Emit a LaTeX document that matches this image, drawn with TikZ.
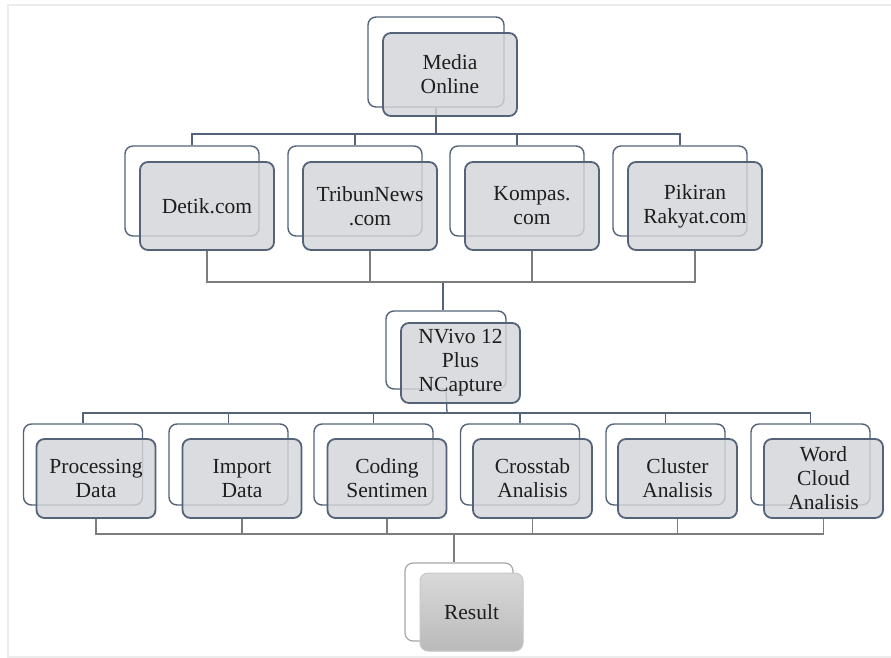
\documentclass[tikz,border=0pt]{standalone}
\usepackage{fontspec}
\setmainfont{Liberation Serif}
\definecolor{slate}{RGB}{84,99,120}
\definecolor{boxgray}{RGB}{212,213,217}
\definecolor{busgray}{RGB}{125,125,125}
\definecolor{framegray}{RGB}{236,236,236}
\definecolor{txt}{RGB}{30,30,30}
\tikzset{
  backbox/.style={draw=slate, fill=white, rounded corners=8pt, line width=1.4pt, inner sep=0pt},
  frontbox/.style={draw=slate, fill=boxgray, fill opacity=0.82, text opacity=1, rounded corners=8pt, line width=1.8pt, inner sep=0pt, align=center, text=txt, font=\fontsize{21.5}{24}\selectfont},
  topline/.style={draw=slate, line width=1.3pt},
  botline/.style={draw=busgray, line width=1.3pt},
  wtwo/.style={minimum width=134pt},
  wthree/.style={minimum width=119pt},
}
\begin{document}
\begin{tikzpicture}[x=1pt,y=-1pt]
\useasboundingbox (0,0) rectangle (891,658);
% faint outer frame
\draw[framegray, line width=2pt] (891,5) -- (8,5) -- (8,657) -- (891,657);

% ---- back boxes ----
\node[backbox, minimum width=136pt, minimum height=90pt] (mediab) at (436,62) {};
\node[backbox, wtwo, minimum height=90pt] (detikb) at (192,191) {};
\node[backbox, wtwo, minimum height=90pt] (tribunb) at (355,191) {};
\node[backbox, wtwo, minimum height=90pt] (kompasb) at (517,191) {};
\node[backbox, wtwo, minimum height=90pt] (pikiranb) at (680,191) {};
\node[backbox, minimum width=120pt, minimum height=78pt] (nvivob) at (446,350) {};
\node[backbox, wthree, minimum height=81pt] (procb) at (83,464.5) {};
\node[backbox, wthree, minimum height=81pt] (importb) at (228.5,464.5) {};
\node[backbox, wthree, minimum height=81pt] (codingb) at (373.5,464.5) {};
\node[backbox, wthree, minimum height=81pt] (crossb) at (520,464.5) {};
\node[backbox, wthree, minimum height=81pt] (clusterb) at (665.5,464.5) {};
\node[backbox, wthree, minimum height=81pt] (wordb) at (810.5,464.5) {};
\node[backbox, draw=black!35, line width=1.2pt, minimum width=108pt, minimum height=78pt] (resultb) at (459,602) {};

% ---- bus coordinates ----
\coordinate (bus1) at (436,134);
\coordinate (bus2) at (443,282);
\coordinate (bus3) at (447,413);
\coordinate (bus4) at (454,534);

% ---- top connectors ----
\draw[topline] (mediab.south) -- (bus1);
\foreach \c in {detikb,tribunb,kompasb,pikiranb}
  \draw[topline] (bus1) -| (\c.north);
\draw[topline] (bus2) -- (bus2 |- nvivob.north);
\draw[topline] (nvivob.south) -- (bus3);
\foreach \c in {procb,importb,codingb,crossb,clusterb,wordb}
  \draw[topline] (bus3) -| (\c.north);

% ---- front boxes ----
\node[frontbox, minimum width=134pt, minimum height=83pt] (mediaf) at (450,74.5) {Media\\Online};
\node[frontbox, wtwo, minimum height=88pt] (detikf) at (207,206) {Detik.com};
\node[frontbox, wtwo, minimum height=88pt] (tribunf) at (370,206) {TribunNews\\.com};
\node[frontbox, wtwo, minimum height=88pt] (kompasf) at (532,206) {Kompas.\\com};
\node[frontbox, wtwo, minimum height=88pt] (pikiranf) at (695,206) {Pikiran\\Rakyat.com};
\node[frontbox, minimum width=119pt, minimum height=80pt] (nvivof) at (460.5,363) {NVivo 12\\Plus\\NCapture};
\node[frontbox, wthree, minimum height=79pt] (procf) at (96,478.5) {Processing\\Data};
\node[frontbox, wthree, minimum height=79pt] (importf) at (242,478.5) {Import\\Data};
\node[frontbox, wthree, minimum height=79pt] (codingf) at (387,478.5) {Coding\\Sentimen};
\node[frontbox, wthree, minimum height=79pt] (crossf) at (532.5,478.5) {Crosstab\\Analisis};
\node[frontbox, wthree, minimum height=79pt] (clusterf) at (677.5,478.5) {Cluster\\Analisis};
\node[frontbox, wthree, minimum height=79pt] (wordf) at (823.5,478.5) {Word\\Cloud\\Analisis};
\node[frontbox, draw=black!22, line width=1pt, fill opacity=1, top color=black!15, bottom color=black!27, minimum width=103pt, minimum height=78pt] (resultf) at (471.5,612) {Result};

% ---- bottom connectors ----
\foreach \c in {detikf,tribunf,kompasf,pikiranf}
  \draw[botline] (\c.south) |- (bus2);
\foreach \c in {procf,importf,codingf,crossf,clusterf,wordf}
  \draw[botline] (\c.south) |- (bus4);
\draw[botline] (bus4) -- (bus4 |- resultb.north);
\end{tikzpicture}
\end{document}
